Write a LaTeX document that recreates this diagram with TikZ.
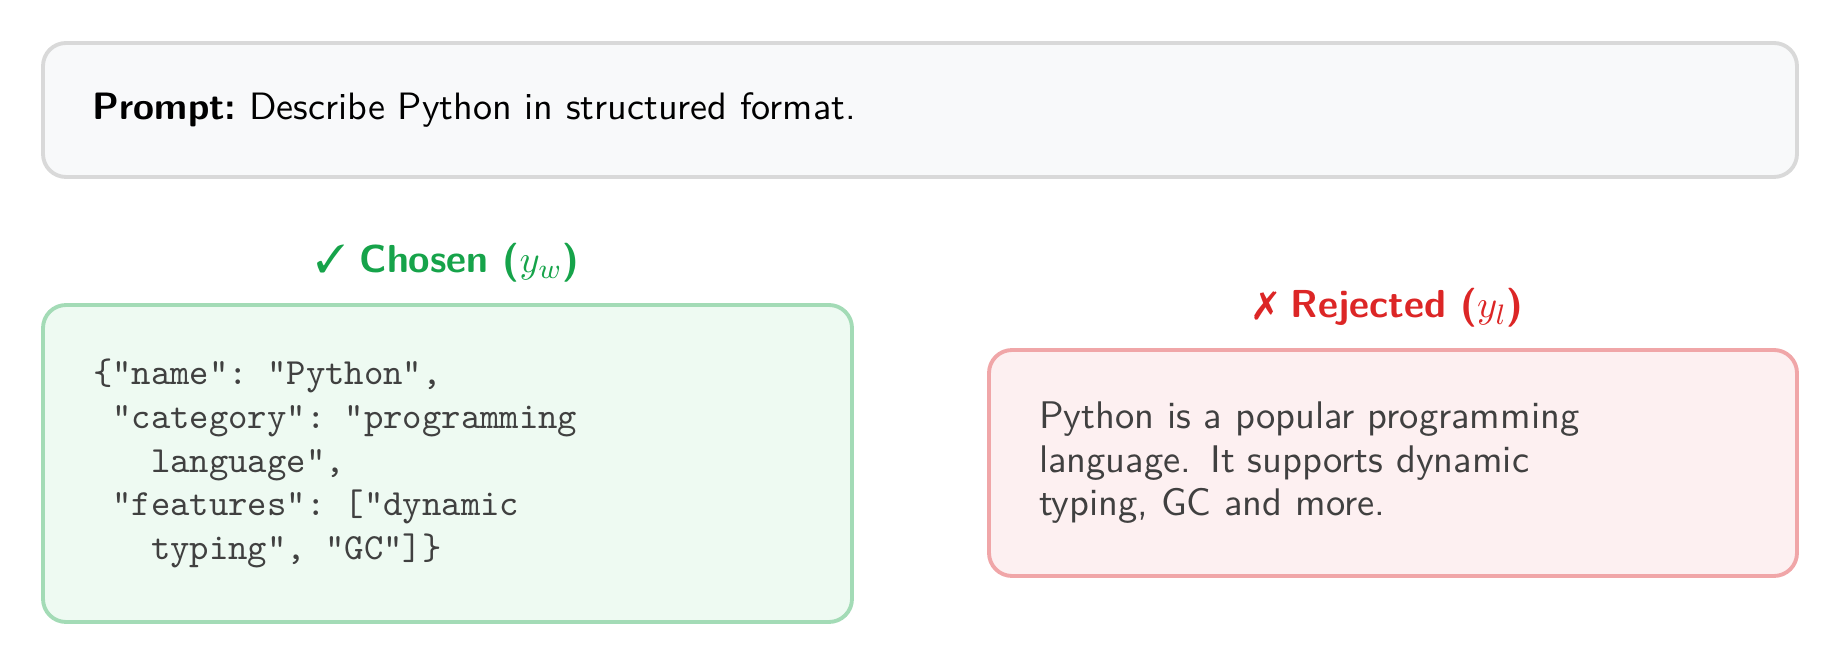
\documentclass[tikz,border=0pt]{standalone}
\usepackage{fontspec}
\usepackage{pifont}
\usetikzlibrary{positioning}

\definecolor{promptfill}{HTML}{F8F9FA}
\definecolor{promptline}{HTML}{D9D9D9}
\definecolor{goodfill}{HTML}{EEFAF2}
\definecolor{goodline}{HTML}{A3DBB6}
\definecolor{goodtext}{HTML}{16A34A}
\definecolor{badfill}{HTML}{FDF0F1}
\definecolor{badline}{HTML}{F0A6A8}
\definecolor{badtext}{HTML}{DC2626}
\definecolor{bodytext}{HTML}{404040}

% one monospace cell
\newcommand\blank{\phantom{x}}

\begin{document}
\begin{tikzpicture}[
        font=\sffamily\fontsize{10.95}{12.4}\selectfont,
        panel/.style={draw, rounded corners=0.23cm, line width=1.1pt, align=left, inner xsep=0.5cm, anchor=center},
        tag/.style={font=\sffamily\bfseries\fontsize{11.1}{13}\selectfont}
    ]
    \useasboundingbox (0,0) rectangle (18.41,6.67);

    \node[panel, fill=promptfill, draw=promptline, minimum height=1.34cm, text width=16.54cm,
          font=\sffamily\fontsize{10.85}{12.4}\selectfont] (prompt) at (9.20,5.57)
        {\textbf{Prompt:}\ Describe Python in structured format.};

    \node[panel, fill=goodfill, draw=goodline, text=bodytext, minimum height=3.17cm, text width=7.09cm,
          font=\ttfamily\fontsize{10.5}{12.4}\selectfont] (chosen) at (4.475,2.035)
        {\{"name":\blank"Python",\\
         \blank"category":\blank"programming\\
         \blank\blank\blank language",\\
         \blank"features":\blank["dynamic\\
         \blank\blank\blank typing",\blank"GC"]\}};

    \node[panel, fill=badfill, draw=badline, text=bodytext, minimum height=2.26cm, text width=7.08cm] (rejected) at (13.93,2.04)
        {Python is a popular programming\\
         language. It supports dynamic\\
         typing, GC and more.};

    \node[tag, text=goodtext] (chosenlabel) at ([yshift=0.40cm]chosen.north) {\ding{51} Chosen ($y_w$)};
    \node[tag, text=badtext] (rejectedlabel) at ([xshift=-0.04cm, yshift=0.40cm]rejected.north) {\ding{55} Rejected ($y_l$)};
\end{tikzpicture}
\end{document}
